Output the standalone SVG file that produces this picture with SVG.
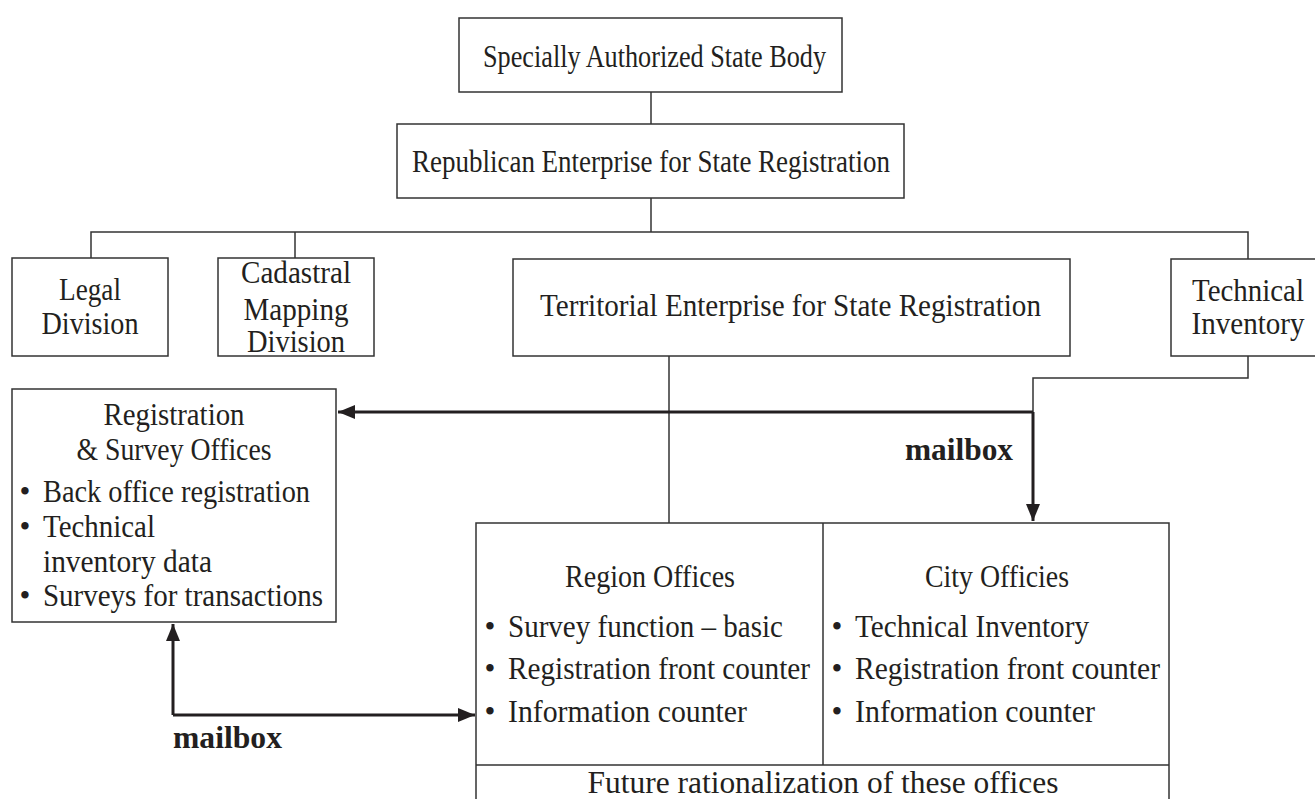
<svg xmlns="http://www.w3.org/2000/svg" width="1315" height="799" viewBox="0 0 1315 799">
  <style>
    .box { fill: #ffffff; stroke: #333333; stroke-width: 1.5; }
    .thin { fill: none; stroke: #333333; stroke-width: 1.5; }
    .thick { fill: none; stroke: #231f20; stroke-width: 3; }
    .t { font-family: "Liberation Serif", "Times New Roman", serif; font-size: 31px; fill: #231f20; }
    .c { text-anchor: middle; }
    .b { font-weight: bold; }
  </style>
  <defs>
    <marker id="arrow" markerUnits="userSpaceOnUse" markerWidth="18" markerHeight="14" refX="17" refY="7" orient="auto">
      <path d="M0,0 L17,7 L0,14 z" fill="#231f20"/>
    </marker>
  </defs>
  <rect width="1315" height="799" fill="#ffffff"/>

  <!-- connectors -->
  <g id="connectors">
    <path class="thin" d="M651,92 V124"/>
    <path class="thin" d="M651,198 V232"/>
    <path class="thin" d="M91,258 V232 H1248 V259"/>
    <path class="thin" d="M295,232 V258"/>
    <path class="thin" d="M669,356 V523"/>
    <path class="thin" d="M1248,356 V378 H1033 V412"/>
    <path class="thick" d="M1033,412 H338" marker-end="url(#arrow)"/>
    <path class="thick" d="M1033,412 V521" marker-end="url(#arrow)"/>
    <path class="thick" d="M173,715 V624" marker-end="url(#arrow)"/>
    <path class="thick" d="M173,715 H475" marker-end="url(#arrow)"/>
    <text class="t b" x="173" y="748" textLength="109" lengthAdjust="spacingAndGlyphs">mailbox</text>
    <text class="t b" x="905" y="460" textLength="108" lengthAdjust="spacingAndGlyphs">mailbox</text>
  </g>

  <g id="state-body">
    <rect class="box" x="459" y="18" width="383" height="74"/>
    <text class="t" x="483" y="67" textLength="343" lengthAdjust="spacingAndGlyphs">Specially Authorized State Body</text>
  </g>

  <g id="republican-enterprise">
    <rect class="box" x="397" y="124" width="507" height="74"/>
    <text class="t" x="412" y="172" textLength="478" lengthAdjust="spacingAndGlyphs">Republican Enterprise for State Registration</text>
  </g>

  <g id="legal-division">
    <rect class="box" x="12" y="258" width="156" height="98"/>
    <text class="t c" x="90" y="300" textLength="62" lengthAdjust="spacingAndGlyphs">Legal</text>
    <text class="t c" x="90" y="334" textLength="97" lengthAdjust="spacingAndGlyphs">Division</text>
  </g>

  <g id="cadastral-division">
    <rect class="box" x="218" y="258" width="156" height="98"/>
    <text class="t c" x="296" y="283" textLength="110" lengthAdjust="spacingAndGlyphs">Cadastral</text>
    <text class="t c" x="296" y="320" textLength="105" lengthAdjust="spacingAndGlyphs">Mapping</text>
    <text class="t c" x="296" y="352" textLength="98" lengthAdjust="spacingAndGlyphs">Division</text>
  </g>

  <g id="territorial-enterprise">
    <rect class="box" x="513" y="259" width="557" height="97"/>
    <text class="t" x="540" y="316" textLength="501" lengthAdjust="spacingAndGlyphs">Territorial Enterprise for State Registration</text>
  </g>

  <g id="technical-inventory">
    <rect class="box" x="1171" y="259" width="150" height="97"/>
    <text class="t c" x="1248" y="301" textLength="112" lengthAdjust="spacingAndGlyphs">Technical</text>
    <text class="t c" x="1248" y="334" textLength="113" lengthAdjust="spacingAndGlyphs">Inventory</text>
  </g>

  <g id="registration-survey-offices">
    <rect class="box" x="12" y="389" width="324" height="233"/>
    <text class="t c" x="174" y="425" textLength="141" lengthAdjust="spacingAndGlyphs">Registration</text>
    <text class="t c" x="174" y="460" textLength="195" lengthAdjust="spacingAndGlyphs">&amp; Survey Offices</text>
    <text class="t c" x="25" y="502">•</text>
    <text class="t" x="43" y="502" textLength="267" lengthAdjust="spacingAndGlyphs">Back office registration</text>
    <text class="t c" x="25" y="537">•</text>
    <text class="t" x="43" y="537" textLength="112" lengthAdjust="spacingAndGlyphs">Technical</text>
    <text class="t" x="43" y="572" textLength="169" lengthAdjust="spacingAndGlyphs">inventory data</text>
    <text class="t c" x="25" y="606">•</text>
    <text class="t" x="43" y="606" textLength="280" lengthAdjust="spacingAndGlyphs">Surveys for transactions</text>
  </g>

  <g id="region-city-offices">
    <rect class="box" x="476" y="523" width="693" height="290"/>
    <path class="thin" d="M823,523 V765 M476,765 H1169"/>
  </g>

  <g id="region-offices">
    <text class="t c" x="650" y="587" textLength="170" lengthAdjust="spacingAndGlyphs">Region Offices</text>
    <text class="t c" x="490" y="637">•</text>
    <text class="t" x="508" y="637" textLength="275" lengthAdjust="spacingAndGlyphs">Survey function – basic</text>
    <text class="t c" x="490" y="679">•</text>
    <text class="t" x="508" y="679" textLength="302" lengthAdjust="spacingAndGlyphs">Registration front counter</text>
    <text class="t c" x="490" y="722">•</text>
    <text class="t" x="508" y="722" textLength="239" lengthAdjust="spacingAndGlyphs">Information counter</text>
  </g>

  <g id="city-offices">
    <text class="t c" x="997" y="587" textLength="144" lengthAdjust="spacingAndGlyphs">City Officies</text>
    <text class="t c" x="837" y="637">•</text>
    <text class="t" x="855" y="637" textLength="234" lengthAdjust="spacingAndGlyphs">Technical Inventory</text>
    <text class="t c" x="837" y="679">•</text>
    <text class="t" x="855" y="679" textLength="305" lengthAdjust="spacingAndGlyphs">Registration front counter</text>
    <text class="t c" x="837" y="722">•</text>
    <text class="t" x="855" y="722" textLength="240" lengthAdjust="spacingAndGlyphs">Information counter</text>
  </g>

  <g id="future-rationalization">
    <text class="t c" x="823" y="793" textLength="471" lengthAdjust="spacingAndGlyphs">Future rationalization of these offices</text>
  </g>
</svg>
